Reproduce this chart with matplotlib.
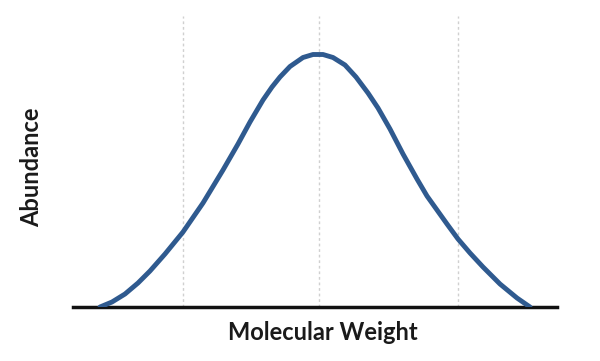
import matplotlib.pyplot as plt

# values (arbitrary units)
weight = [100, 112, 125, 138, 150, 165, 183, 203, 223, 238, 250, 263, 272, 280,
          290, 303, 313, 323, 333, 345, 356, 368, 378, 390, 403, 417, 427, 447,
          458, 470, 483, 500, 517, 530]
abundance = [0, 5, 13, 24, 36, 53, 75, 104, 137, 163, 185, 207, 220, 230,
             240.5, 249.5, 252.5, 252.5, 249.5, 242, 230, 214, 199, 178, 153, 128, 111, 83,
             68, 54, 40, 23, 9, 0]
grid_x = [183, 319, 458]

plt.rcParams['font.family'] = ['Lato', 'DejaVu Sans']

fig = plt.figure(figsize=(6, 3.61), dpi=100)
ax = fig.add_axes([73 / 600, 54 / 361, 484 / 600, 291 / 361])

for gx in grid_x:
    ax.axvline(gx, color='#d0d0d0', lw=1, ls=(0, (2, 2)), zorder=1)

ax.plot(weight, abundance, color='#2f5a8f', lw=3.5, solid_capstyle='round',
        solid_joinstyle='round', zorder=3)

ax.set_xlim(73, 557)
ax.set_ylim(0, 291)
for s in ['top', 'right', 'left']:
    ax.spines[s].set_visible(False)
ax.spines['bottom'].set_linewidth(2.5)
ax.spines['bottom'].set_color('#111111')
ax.spines['bottom'].set_zorder(2)
ax.set_xticks([])
ax.set_yticks([])

fig.text(323 / 600, 1 - 333 / 361, 'Molecular Weight', ha='center', va='center',
         fontsize=17, fontweight='bold', color='#1a1a1a')
fig.text(32 / 600, 1 - 167 / 361, 'Abundance', ha='center', va='center',
         rotation=90, fontsize=17, fontweight='bold', color='#1a1a1a')

fig.savefig('out.png', dpi=100)
